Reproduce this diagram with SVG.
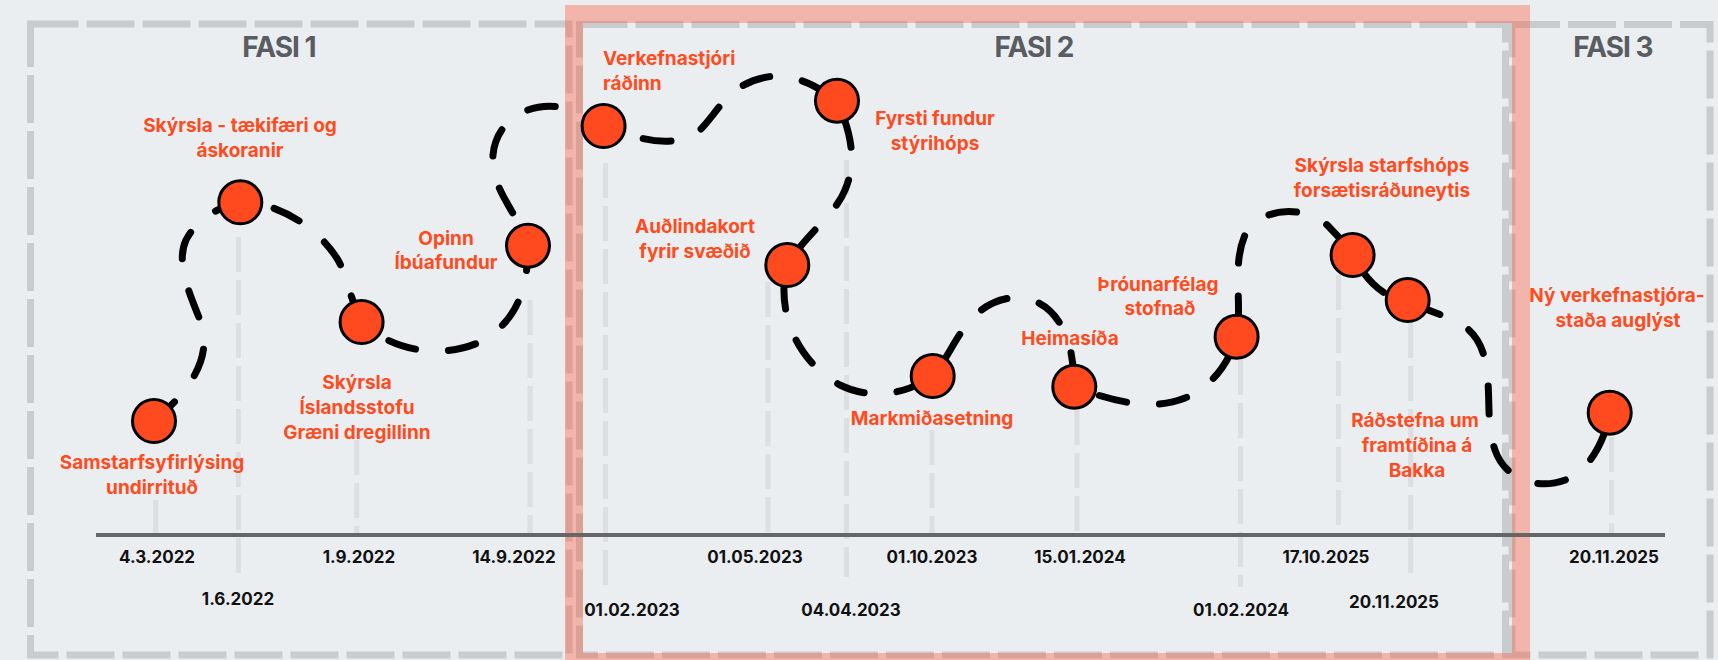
<svg xmlns="http://www.w3.org/2000/svg" width="1718" height="660" viewBox="0 0 1718 660">
<style>
.phase{fill:none;stroke:#c8cccf;stroke-width:7;stroke-dasharray:48 8}
.drop{stroke:#dcdee1;stroke-width:5;stroke-dasharray:35 8;fill:none}
.node{fill:#fe4a1e;stroke:#000;stroke-width:3}
.lbl{font-family:Inter,"Liberation Sans",sans-serif;font-weight:700;font-size:19px;fill:#ff4b20;text-anchor:middle}
.date{font-family:Inter,"Liberation Sans",sans-serif;font-weight:700;font-size:17px;fill:#111;text-anchor:middle}
.fasi{font-family:Inter,"Liberation Sans",sans-serif;font-weight:700;font-size:28px;fill:#595c60;text-anchor:middle;letter-spacing:-1px}
</style>
<rect x="0" y="0" width="1718" height="660" fill="#ebeef1"/>
<g id="phases">
<rect class="phase" x="30.5" y="24" width="538.5" height="631"/>
<rect class="phase" x="579.5" y="24.5" width="926" height="630.5"/>
<rect class="phase" x="1512" y="24.5" width="198" height="630.5"/>
<rect x="574" y="14" width="947" height="648" fill="none" stroke="#ff5a3c" stroke-opacity="0.38" stroke-width="18"/>
<text class="fasi" x="279" y="57">FASI 1</text>
<text class="fasi" x="1034" y="57">FASI 2</text>
<text class="fasi" x="1613" y="57">FASI 3</text>
</g>
<g id="droplines">
<line class="drop" x1="155.7" y1="500" x2="155.7" y2="535"/>
<line class="drop" x1="238.4" y1="237" x2="238.4" y2="577"/>
<line class="drop" x1="356.7" y1="440" x2="356.7" y2="535"/>
<line class="drop" x1="530" y1="300" x2="530" y2="535"/>
<line class="drop" x1="605.5" y1="163" x2="605.5" y2="587"/>
<line class="drop" x1="768" y1="282" x2="768" y2="535"/>
<line class="drop" x1="846.6" y1="160" x2="846.6" y2="577"/>
<line class="drop" x1="932" y1="430" x2="932" y2="535"/>
<line class="drop" x1="1077" y1="410" x2="1077" y2="535"/>
<line class="drop" x1="1240.5" y1="360" x2="1240.5" y2="587"/>
<line class="drop" x1="1338.4" y1="275" x2="1338.4" y2="535"/>
<line class="drop" x1="1410.7" y1="323" x2="1410.7" y2="578"/>
<line class="drop" x1="1611.6" y1="437" x2="1611.6" y2="535"/>
</g>
<g id="axis">
<line x1="96" y1="535" x2="1665" y2="535" stroke="#666" stroke-width="4"/>
</g>
<g id="connectors">
<path fill="none" stroke="#000" stroke-width="7" stroke-linecap="round" stroke-dasharray="28 33" d="M154,421 C185,395 215,360 200,320 C188,290 176,262 186,240 C196,220 220,206 240,202 C280,202 320,230 338,260 C348,278 350,300 362,322 C390,350 440,360 480,342 C510,325 528,300 528,246 C520,215 490,190 493,155 C496,120 530,100 565,108 C580,112 592,120 604,126 C640,140 675,150 700,130 C720,110 730,80 775,76 C800,76 820,88 837,101 C850,130 858,160 845,190 C835,215 805,235 787,265 C776,310 795,360 840,385 C870,400 905,395 933,376 C955,350 965,305 1010,298 C1050,294 1075,330 1074,387 C1110,400 1150,412 1185,398 C1210,388 1228,365 1237,337 C1242,300 1232,265 1245,235 C1260,205 1310,205 1330,228 C1340,238 1348,248 1353,255 C1365,280 1385,300 1408,300 C1440,320 1475,315 1485,360 C1492,395 1485,420 1495,450 C1505,480 1540,492 1570,478 C1590,468 1605,440 1610,413"/>
</g>
<g id="n1"><circle class="node" cx="154" cy="421" r="21.5"/><text class="lbl" x="152" y="469">Samstarfsyfirlýsing</text><text class="lbl" x="152" y="494">undirrituð</text><text class="date" x="157" y="563">4.3.2022</text></g>
<g id="n2"><circle class="node" cx="240.3" cy="202.3" r="21.5"/><text class="lbl" x="240" y="132">Skýrsla - tækifæri og</text><text class="lbl" x="240" y="157">áskoranir</text><text class="date" x="238" y="605">1.6.2022</text></g>
<g id="n3"><circle class="node" cx="361.6" cy="322" r="21.5"/><text class="lbl" x="357" y="389">Skýrsla</text><text class="lbl" x="357" y="414">Íslandsstofu</text><text class="lbl" x="357" y="439">Græni dregillinn</text><text class="date" x="359" y="563">1.9.2022</text></g>
<g id="n4"><circle class="node" cx="528" cy="245.7" r="21.5"/><text class="lbl" x="446" y="245">Opinn</text><text class="lbl" x="446" y="269">Íbúafundur</text><text class="date" x="514" y="563">14.9.2022</text></g>
<g id="n5"><circle class="node" cx="603.6" cy="126" r="21.5"/><text class="lbl" x="603" y="65" style="text-anchor:start">Verkefnastjóri</text><text class="lbl" x="603" y="90" style="text-anchor:start">ráðinn</text><text class="date" x="632" y="616">01.02.2023</text></g>
<g id="n6"><circle class="node" cx="837" cy="100.7" r="21.5"/><text class="lbl" x="935" y="125">Fyrsti fundur</text><text class="lbl" x="935" y="150">stýrihóps</text><text class="date" x="851" y="616">04.04.2023</text></g>
<g id="n7"><circle class="node" cx="787.3" cy="265" r="21.5"/><text class="lbl" x="695" y="233">Auðlindakort</text><text class="lbl" x="695" y="258">fyrir svæðið</text><text class="date" x="755" y="563">01.05.2023</text></g>
<g id="n8"><circle class="node" cx="932.7" cy="376" r="21.5"/><text class="lbl" x="932" y="425">Markmiðasetning</text><text class="date" x="932" y="563">01.10.2023</text></g>
<g id="n9"><circle class="node" cx="1074.3" cy="386.7" r="21.5"/><text class="lbl" x="1070" y="345">Heimasíða</text><text class="date" x="1080" y="563">15.01.2024</text></g>
<g id="n10"><circle class="node" cx="1236.6" cy="336.7" r="21.5"/><text class="lbl" x="1158" y="291">Þróunarfélag</text><text class="lbl" x="1160" y="315">stofnað</text><text class="date" x="1241" y="616">01.02.2024</text></g>
<g id="n11"><circle class="node" cx="1352.6" cy="255" r="21.5"/><text class="lbl" x="1382" y="172">Skýrsla starfshóps</text><text class="lbl" x="1382" y="197">forsætisráðuneytis</text><text class="date" x="1326" y="563">17.10.2025</text></g>
<g id="n12"><circle class="node" cx="1407.7" cy="300" r="21.5"/><text class="lbl" x="1415" y="427">Ráðstefna um</text><text class="lbl" x="1417" y="452">framtíðina á</text><text class="lbl" x="1417" y="477">Bakka</text><text class="date" x="1394" y="608">20.11.2025</text></g>
<g id="n13"><circle class="node" cx="1609.7" cy="412.7" r="21.5"/><text class="lbl" x="1617" y="302">Ný verkefnastjóra-</text><text class="lbl" x="1618" y="327">staða auglýst</text><text class="date" x="1614" y="563">20.11.2025</text></g>
</svg>
